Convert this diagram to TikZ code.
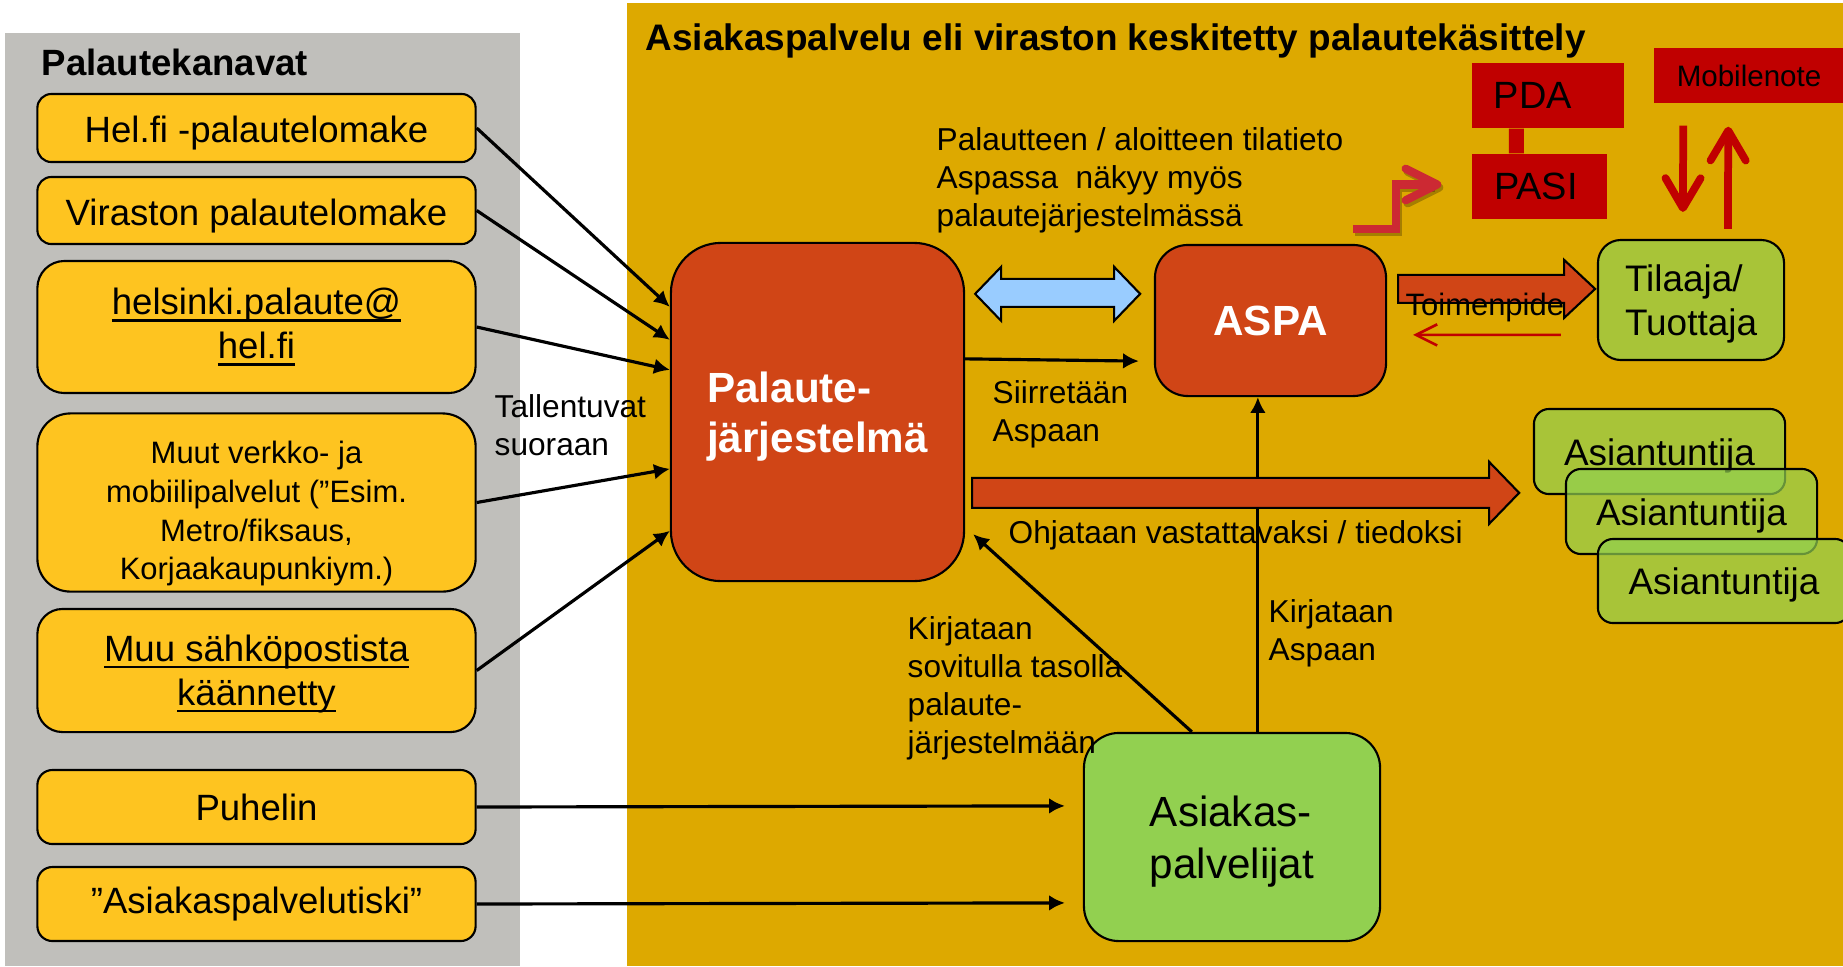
\documentclass[tikz,border=0pt]{standalone}
\usepackage{amsmath}
\usepackage{fontspec}
\setmainfont{Liberation Sans}
\usepackage{tikz}
\usetikzlibrary{calc,positioning,arrows,arrows.meta}

\definecolor{harmaa}{RGB}{192,191,187}
\definecolor{keltainen}{RGB}{221,169,0}
\definecolor{kanavakeltainen}{RGB}{254,196,32}
\definecolor{oranssi}{RGB}{208,69,22}
\definecolor{vihrea}{RGB}{146,208,80}
\definecolor{tummapuna}{RGB}{192,0,0}
\definecolor{vaaleansininen}{RGB}{153,204,255}
\definecolor{porraspuna}{RGB}{204,41,51}

\newcommand{\alle}[1]{\setbox0=\hbox{#1}\rlap{\rule[-1.9pt]{\wd0}{0.8pt}}\box0}

\tikzset{
	kanava/.style={draw,fill=kanavakeltainen,line width=0.6pt,minimum width=4.38cm,align=center,font=\fontsize{10.4}{12.5}\selectfont},
	jarjestelma/.style={draw,fill=oranssi,line width=0.6pt,text=white,align=left,font=\fontsize{12}{14.2}\selectfont\bfseries},
	toimija/.style={draw,fill=vihrea,line width=0.6pt,align=left,text opacity=1},
	asiantuntija/.style={toimija,fill opacity=0.7,minimum width=2.51cm,minimum height=0.85cm,rounded corners=0.15cm,text height=7.8pt,text depth=0pt,font=\fontsize{10.5}{12.3}\selectfont},
	otsikko/.style={anchor=base west,inner sep=0pt,font=\fontsize{10.4}{12.5}\selectfont\bfseries},
	selite/.style={anchor=north west,inner sep=0pt,align=left,font=\fontsize{9}{10.8}\selectfont},
	nuoli/.style={-{Latex[length=4.5pt,width=4.5pt]},line width=0.9pt},
	lohko/.style={draw,fill=oranssi,line width=0.6pt},
	punanuoli/.style={tummapuna,-{Straight Barb[length=8.5pt,width=10pt,round]},line width=2.2pt},
	porras/.style={-{Straight Barb[length=9pt,width=9pt,round]},line width=2.3pt,miter limit=4}
}

\begin{document}
\begin{tikzpicture}[x=0.01cm,y=-0.01cm]
	\fill[white] (0,0) rectangle (1843,966);
	\useasboundingbox (0,0) rectangle (1843,966);
	\fill[harmaa] (5,33) rectangle (520,966);
	\fill[keltainen] (627,3) rectangle (1843,966);
	\node[otsikko] (30) at (41,75) {Palautekanavat};
	\node[otsikko,font=\fontsize{10.5}{12.5}\selectfont\bfseries] (31) at (645,50) {Asiakaspalvelu eli viraston keskitetty palautekäsittely};

	\node[kanava,minimum height=0.68cm,rounded corners=0.14cm,text height=8.4pt,text depth=0pt] (1) at (256.5,128) {Hel.fi -palautelomake};
	\node[kanava,minimum height=0.67cm,rounded corners=0.14cm,text height=8.4pt,text depth=0pt] (2) at (256.5,210.5) {Viraston palautelomake};
	\node[kanava,minimum height=1.32cm,rounded corners=0.27cm] (3) at (256.5,327) {\alle{helsinki.palaute@}\\\alle{hel.fi}};
	\node[kanava,minimum height=1.77cm,rounded corners=0.33cm,text height=44pt,text depth=0pt,font=\fontsize{8.8}{11}\selectfont] (4) at (256.5,502.5) {Muut verkko- ja\\mobiilipalvelut (”Esim.\\Metro/fiksaus,\\Korjaakaupunkiym.)};
	\node[kanava,minimum height=1.23cm,rounded corners=0.25cm,text depth=0pt] (5) at (256.5,670.5) {\alle{Muu sähköpostista}\\\alle{käännetty}};
	\node[kanava,minimum height=0.74cm,rounded corners=0.15cm] (6) at (256.5,807) {Puhelin};
	\node[kanava,minimum height=0.74cm,rounded corners=0.15cm] (7) at (256.5,904) {”Asiakaspalvelutiski”};

	\node[jarjestelma,minimum width=2.93cm,minimum height=3.38cm,rounded corners=0.5cm,text depth=0pt] (8) at (817.5,412) {Palaute-\\järjestelmä};
	\node[jarjestelma,minimum width=2.31cm,minimum height=1.51cm,rounded corners=0.33cm] (9) at (1270.5,320.5) {ASPA};
	\node[toimija,minimum width=2.96cm,minimum height=2.08cm,rounded corners=0.35cm,text depth=0pt,font=\fontsize{12}{14.8}\selectfont] (10) at (1232,837) {Asiakas-\\palvelijat};
	\node[toimija,fill opacity=0.7,minimum width=1.86cm,minimum height=1.2cm,rounded corners=0.23cm,text depth=-1.5pt,font=\fontsize{10.5}{12.6}\selectfont] (11) at (1691,300) {Tilaaja/\\Tuottaja};
	\node[asiantuntija] (12) at (1659.5,451.5) {Asiantuntija};
	\node[asiantuntija] (13) at (1691.5,511.5) {Asiantuntija};
	\node[asiantuntija,minimum width=2.52cm,minimum height=0.84cm] (14) at (1724,581) {Asiantuntija};

	\node[fill=tummapuna,inner ysep=0pt,inner xsep=0.22cm,text width=1.08cm,minimum height=0.65cm,align=left,font=\fontsize{10.8}{13}\selectfont] (15) at (1548,95.5) {PDA};
	\node[fill=tummapuna,inner ysep=0pt,inner xsep=0.22cm,text width=0.91cm,minimum height=0.65cm,align=left,font=\fontsize{10.8}{13}\selectfont] (16) at (1539.5,186.5) {PASI};
	\node[fill=tummapuna,minimum width=1.9cm,minimum height=0.55cm,font=\fontsize{8.4}{10}\selectfont] (17) at (1749,75.5) {Mobilenote};
	\draw[tummapuna,line width=0.15cm] ($(15.south west)+(45,0)$) -- ($(16.north west)+(45,0)$);

	\node[selite] (18) at (936,127) {Palautteen / aloitteen tilatieto\\Aspassa~ näkyy myös\\palautejärjestelmässä};
	\node[selite] (19) at (992,380) {Siirretään\\Aspaan};
	\node[selite] (20) at (494,394) {Tallentuvat\\suoraan};
	\node[selite] (21) at (907,616) {Kirjataan\\sovitulla tasolla\\palaute-\\järjestelmään};
	\node[selite] (22) at (1268,599) {Kirjataan\\Aspaan};
	\node[selite,anchor=base west] (23) at (1008,543) {Ohjataan vastattavaksi / tiedoksi};

	\path[nuoli]
		(1.east) edge ($(8.north west)+(0,65)$)
		(2.east) edge ($(8.north west)+(0,98)$)
		(3.east) edge ($(8.north west)+(0,128)$)
		(4.east) edge ($(8.north west)+(0,227)$)
		(5.east) edge ($(8.north west)+(0,289)$)
		(6.east) edge ($(10.north west)+(-18,74)$)
		(7.east) edge ($(10.north west)+(-18,171)$)
		($(8.north east)+(0,117)$) edge ($(9.south west)+(-15,-36)$)
		($(10.north west)+(109,0)$) edge ($(8.south east)+(8,-48)$);
	\coordinate (25) at ($(10.north west)+(175,0)$);
	\draw[nuoli] (25) -- (25 |- 9.south);

	\draw[lohko] ($(8.north east)+(7,236)$) -- ++(517,0) -- ++(0,-16) -- ++(30,31) -- ++(-30,31) -- ++(0,-16) -- ++(-517,0) -- cycle;
	\draw[fill=vaaleansininen,line width=0.6pt] ($(8.north east)+(10,52)$) -- ++(26,-27) -- ++(0,12) -- ++(113,0) -- ++(0,-12) -- ++(26,27) -- ++(-26,27) -- ++(0,-14) -- ++(-113,0) -- ++(0,14) -- cycle;
	\draw[lohko] ($(9.north east)+(11,31)$) -- ++(166,0) -- ++(0,-15) -- ++(31,29) -- ++(-31,29) -- ++(0,-15) -- ++(-166,0) -- cycle;
	\node[anchor=base west,inner sep=0pt,font=\fontsize{8.8}{10}\selectfont] (24) at (1405,315) {Toimenpide};
	\draw[tummapuna,-{Straight Barb[length=6pt,width=6pt]},line width=0.75pt] ($(11.north west)+(-36,96)$) -- ($(9.north east)+(26,91)$);

	\draw[punanuoli] ($(17.south west)+(30,22)$) -- ($(11.north west)+(86,-27)$);
	\draw[punanuoli] ($(11.north west)+(131,-10)$) -- ($(17.south west)+(75,23)$);

	\begin{scope}[transform canvas={shift={(2,3)}}]
		\draw[porras,black,opacity=0.25] ($(9.north east)+(-34,-15)$) -| ($(16.west)+(-75,-2)$) -- ($(16.west)+(-30,-2)$);
	\end{scope}
	\draw[porras,porraspuna] ($(9.north east)+(-34,-15)$) -| ($(16.west)+(-75,-2)$) -- ($(16.west)+(-30,-2)$);
\end{tikzpicture}
\end{document}
